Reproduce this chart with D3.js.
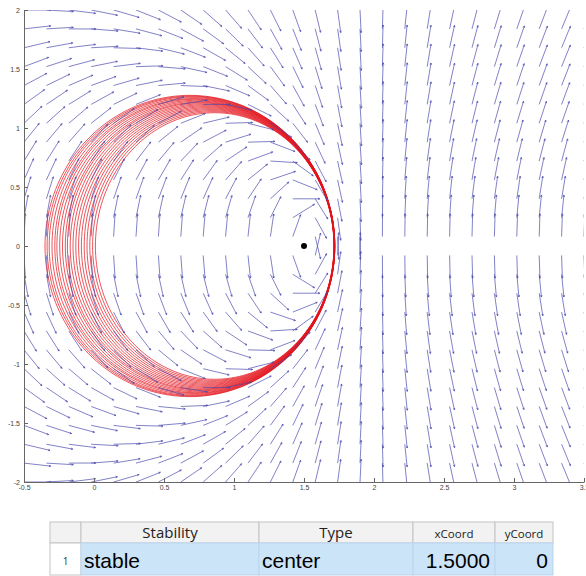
<!DOCTYPE html>
<html>
<head>
<meta charset="utf-8">
<script src="https://cdn.jsdelivr.net/npm/d3@7"></script>
<style>
  body { margin: 0; background: #fff; }
  svg { display: block; }
</style>
</head>
<body>
<div id="chart"></div>
<script>
// axis ticks
var xTicks = [-0.5, 0, 0.5, 1, 1.5, 2, 2.5, 3, 3.5],
    yTicks = [-2, -1.5, -1, -0.5, 0, 0.5, 1, 1.5, 2];

// quiver grid (26 x 26)
var gridX = [-0.5, -0.34, -0.18, -0.02, 0.14, 0.3, 0.46, 0.62, 0.78, 0.94, 1.1, 1.26, 1.42,
             1.58, 1.74, 1.9, 2.06, 2.22, 2.38, 2.54, 2.7, 2.86, 3.02, 3.18, 3.34, 3.5],
    gridY = [-2, -1.84, -1.68, -1.52, -1.36, -1.2, -1.04, -0.88, -0.72, -0.56, -0.4, -0.24, -0.08,
             0.08, 0.24, 0.4, 0.56, 0.72, 0.88, 1.04, 1.2, 1.36, 1.52, 1.68, 1.84, 2];

// left-most x of each loop of the red trajectory
var loopLeft = [-0.35, -0.335, -0.32, -0.30, -0.28, -0.265, -0.245, -0.225, -0.205, -0.19,
                -0.17, -0.15, -0.13, -0.11, -0.09, -0.07, -0.05, -0.03, -0.01, 0.01];

var equilibria = [{x: 1.5, y: 0}];

var tableCols = ["Stability", "Type", "xCoord", "yCoord"],
    tableRows = [["stable", "center", "1.5000", "0"]];

// the system: direction of (x', y')
function field(px, py) {
  var f = py * (2 - px);
  return [f * py * (2 - px), f * (3 - 2 * px - py * py)];
}

var width = 586, height = 576,
    plotL = 24, plotR = 584, plotT = 10, plotB = 482,
    arrowLen = 0.193;

var svg = d3.select("#chart").append("svg")
  .attr("width", width)
  .attr("height", height);

var x = d3.scaleLinear().domain([-0.5, 3.5]).range([plotL, plotR]),
    y = d3.scaleLinear().domain([-2, 2]).range([plotB, plotT]);

svg.append("clipPath").attr("id", "plot")
  .append("rect")
  .attr("x", plotL).attr("y", plotT)
  .attr("width", plotR - plotL).attr("height", plotB - plotT);

// red trajectory loops
var loops = loopLeft.map(function(xl) {
  var s2 = 2 - xl, s1 = s2 / (4 * s2 - 1),
      m = (s1 + s2) / 2, h = (s2 - s1) / 2,
      b = Math.sqrt(4 / (s1 + s2)) * h;
  return d3.range(0, 361, 2).map(function(a) {
    var t = a * Math.PI / 180;
    return [2 - m - h * Math.cos(t), b * Math.sin(t)];
  });
});

var line = d3.line()
  .x(function(d) { return x(d[0]); })
  .y(function(d) { return y(d[1]); });

svg.append("g")
  .attr("clip-path", "url(#plot)")
  .selectAll("path")
  .data(loops)
  .enter()
  .append("path")
  .attr("d", line)
  .attr("fill", "none")
  .attr("stroke", "#e3121b")
  .attr("stroke-width", 0.8)
  .attr("stroke-opacity", 0.9);

// direction field
var arrows = [];
gridX.forEach(function(gx) {
  gridY.forEach(function(gy) {
    var v = field(gx, gy), n = Math.sqrt(v[0] * v[0] + v[1] * v[1]);
    if (n === 0 || !isFinite(n)) return;
    arrows.push({x0: gx, y0: gy, x1: gx + v[0] / n * arrowLen, y1: gy + v[1] / n * arrowLen});
  });
});

svg.append("g")
  .attr("clip-path", "url(#plot)")
  .attr("stroke", "#4646ac")
  .attr("stroke-width", 0.85)
  .attr("stroke-opacity", 0.8)
  .attr("fill", "none")
  .selectAll("path")
  .data(arrows)
  .enter()
  .append("path")
  .attr("d", function(d) {
    var ax = x(d.x0), ay = y(d.y0), bx = x(d.x1), by = y(d.y1),
        ang = Math.atan2(by - ay, bx - ax), hl = 2;
    return "M" + ax + "," + ay + "L" + bx + "," + by +
      "M" + (bx - hl * Math.cos(ang - 0.4)) + "," + (by - hl * Math.sin(ang - 0.4)) +
      "L" + bx + "," + by +
      "L" + (bx - hl * Math.cos(ang + 0.4)) + "," + (by - hl * Math.sin(ang + 0.4));
  });

// equilibrium point
svg.selectAll("circle.eq")
  .data(equilibria)
  .enter()
  .append("circle")
  .attr("class", "eq")
  .attr("cx", function(d) { return x(d.x); })
  .attr("cy", function(d) { return y(d.y); })
  .attr("r", 3)
  .attr("fill", "#000");

// axes
var fmt = function(d) { return String(d); };

var gX = svg.append("g")
  .attr("transform", "translate(0," + plotB + ")")
  .call(d3.axisBottom(x).tickValues(xTicks).tickFormat(fmt).tickSizeInner(-4).tickSizeOuter(0).tickPadding(3));

var gY = svg.append("g")
  .attr("transform", "translate(" + plotL + ",0)")
  .call(d3.axisLeft(y).tickValues(yTicks).tickFormat(fmt).tickSizeInner(-4).tickSizeOuter(0).tickPadding(4));

[gX, gY].forEach(function(g) {
  g.selectAll("path, line").attr("stroke", "#666");
  g.selectAll("text")
    .attr("fill", "#444")
    .style("font-family", "Liberation Sans, Arial, sans-serif")
    .style("font-size", "7px");
});

// table
var colEdges = [50, 81, 259, 413, 495, 553],
    headTop = 522, headBot = 543, rowBot = 575;

var tbl = svg.append("g");

tbl.selectAll("rect.head")
  .data(d3.range(colEdges.length - 1))
  .enter()
  .append("rect")
  .attr("x", function(i) { return colEdges[i]; })
  .attr("y", headTop)
  .attr("width", function(i) { return colEdges[i + 1] - colEdges[i]; })
  .attr("height", headBot - headTop)
  .attr("fill", "#f2f2f2")
  .attr("stroke", "#c4c4c4");

tbl.selectAll("rect.cell")
  .data(d3.range(colEdges.length - 1))
  .enter()
  .append("rect")
  .attr("x", function(i) { return colEdges[i]; })
  .attr("y", headBot)
  .attr("width", function(i) { return colEdges[i + 1] - colEdges[i]; })
  .attr("height", rowBot - headBot)
  .attr("fill", function(i) { return i === 0 ? "#fff" : "#cce4f8"; })
  .attr("stroke", function(i) { return i === 0 ? "#c4c4c4" : "#b9d6ef"; });

tbl.selectAll("text.head")
  .data(tableCols)
  .enter()
  .append("text")
  .attr("x", function(d, i) { return (colEdges[i + 1] + colEdges[i + 2]) / 2; })
  .attr("y", 538)
  .attr("text-anchor", "middle")
  .attr("fill", "#222")
  .style("font-family", "Open Sans, Noto Sans, sans-serif")
  .style("font-size", function(d, i) { return i < 2 ? "15px" : "11.5px"; })
  .text(function(d) { return d; });

tableRows.forEach(function(row, r) {
  tbl.append("text")
    .attr("x", (colEdges[0] + colEdges[1]) / 2)
    .attr("y", 565)
    .attr("text-anchor", "middle")
    .attr("fill", "#333")
    .style("font-family", "Open Sans, sans-serif")
    .style("font-size", "10px")
    .text(r + 1);

  tbl.selectAll(null)
    .data(row)
    .enter()
    .append("text")
    .attr("x", function(d, i) { return i < 2 ? colEdges[i + 1] + 3 : colEdges[i + 2] - 5; })
    .attr("y", 568)
    .attr("text-anchor", function(d, i) { return i < 2 ? "start" : "end"; })
    .attr("fill", "#000")
    .style("font-family", "Liberation Sans, Arial, sans-serif")
    .style("font-size", "21px")
    .text(function(d) { return d; });
});
</script>
</body>
</html>
